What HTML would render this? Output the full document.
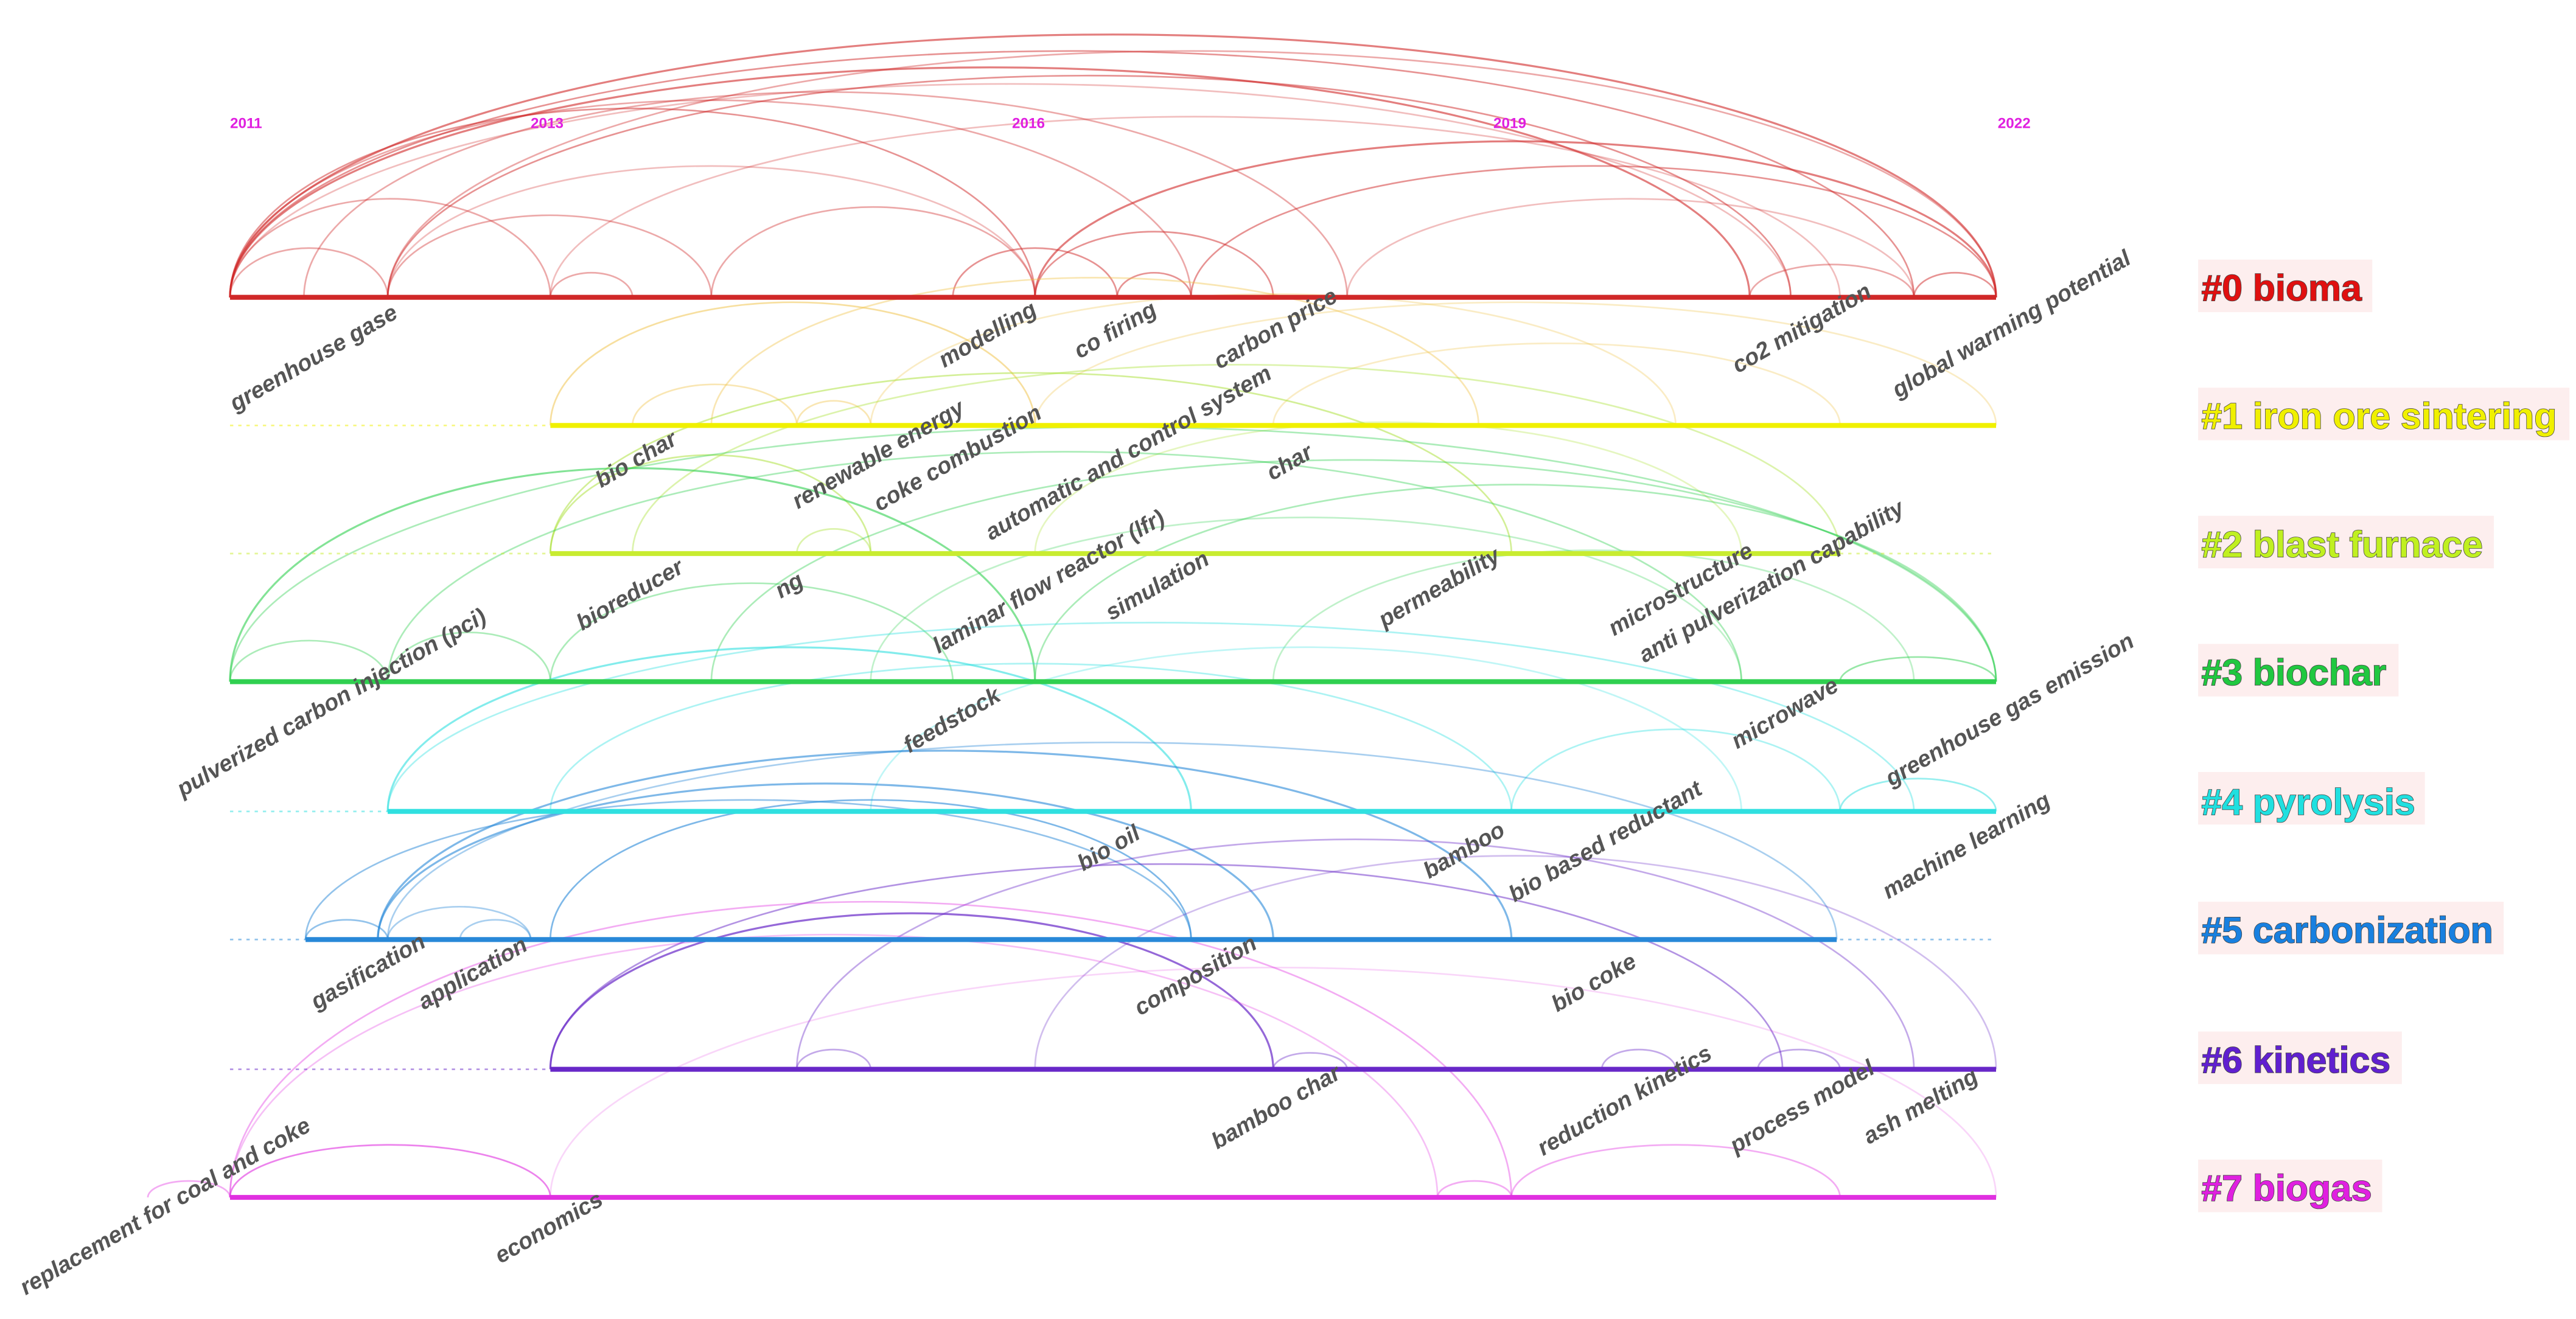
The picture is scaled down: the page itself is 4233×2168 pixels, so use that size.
<!DOCTYPE html>
<html><head><meta charset="utf-8"><style>
html,body{margin:0;padding:0;background:#fff;}
svg{display:block;}
.lab{font-family:"Liberation Sans",sans-serif;font-weight:bold;font-style:italic;font-size:14px;fill:#555;}
.cl{font-family:"Liberation Sans",sans-serif;font-weight:bold;font-size:22.5px;}
.yr{font-family:"Liberation Sans",sans-serif;font-weight:bold;font-size:9px;fill:#e020e0;}
</style></head><body>
<svg id="s" width="4233" height="2168" viewBox="0 0 1568 803" xmlns="http://www.w3.org/2000/svg">
<g id="arcs" fill="none"></g>
<g id="lines"></g>
<g>
<text class="yr" x="140" y="78">2011</text>
<text class="yr" x="323" y="78">2013</text>
<text class="yr" x="616" y="78">2016</text>
<text class="yr" x="909" y="78">2019</text>
<text class="yr" x="1216" y="78">2022</text>
</g>
<g id="labs"></g>
<g>
<rect x="1338" y="158" width="106" height="32" fill="#fdeeee"/>
<rect x="1338" y="236" width="226" height="32" fill="#fdeeee"/>
<rect x="1338" y="314" width="180" height="32" fill="#fdeeee"/>
<rect x="1338" y="392" width="122" height="32" fill="#fdeeee"/>
<rect x="1338" y="470" width="138" height="32" fill="#fdeeee"/>
<rect x="1338" y="549" width="186" height="32" fill="#fdeeee"/>
<rect x="1338" y="628" width="124" height="32" fill="#fdeeee"/>
<rect x="1338" y="706" width="112" height="32" fill="#fdeeee"/>
<g style="paint-order:stroke" stroke="#444" stroke-width="0.6">
<text class="cl" x="1340" y="183" fill="#e01010">#0 bioma</text>
<text class="cl" x="1340" y="261" fill="#f0f000">#1 iron ore sintering</text>
<text class="cl" x="1340" y="339" fill="#c0f020">#2 blast furnace</text>
<text class="cl" x="1340" y="417" fill="#20c840">#3 biochar</text>
<text class="cl" x="1340" y="496" fill="#20e0e0">#4 pyrolysis</text>
<text class="cl" x="1340" y="574" fill="#1880e0">#5 carbonization</text>
<text class="cl" x="1340" y="653" fill="#6020d0">#6 kinetics</text>
<text class="cl" x="1340" y="731" fill="#e020e0">#7 biogas</text>
</g>
</g>
</svg>
<script>
var NS="http://www.w3.org/2000/svg";
var rows=[
 {y:181,c:"#d02828",s:140,e:1215},
 {y:259,c:"#f0f000",s:335,e:1215,a:"#f0c040"},
 {y:337,c:"#c8ec30",s:335,e:1120,a:"#a8e030"},
 {y:415,c:"#30d050",s:140,e:1215},
 {y:494,c:"#30e0e0",s:236,e:1215},
 {y:572,c:"#2888d8",s:186,e:1118},
 {y:651,c:"#6828c8",s:335,e:1215},
 {y:729,c:"#e030e0",s:140,e:1215}];
var A=document.getElementById("arcs"),L=document.getElementById("lines");
function el(n,a,p){var e=document.createElementNS(NS,n);for(var k in a)e.setAttribute(k,a[k]);p.appendChild(e);return e;}
rows.forEach(function(r){
 el("line",{x1:140,x2:1215,y1:r.y,y2:r.y,stroke:r.c,"stroke-width":1,"stroke-dasharray":"2 3",opacity:0.5},L);
 el("line",{x1:r.s,x2:r.e,y1:r.y,y2:r.y,stroke:r.c,"stroke-width":3},L);
});
var arcs=[
[0,140,1215,160,.6,1.2],[0,140,1165,150,.5,1],[0,140,1065,140,.6,1.2],[0,236,1090,135,.5,1],[0,236,1215,150,.4,1],
[0,140,630,115,.5,1],[0,140,725,120,.4,1],[0,185,820,125,.4,1],[0,630,1215,95,.6,1.2],[0,725,1215,80,.5,1],
[0,140,335,60,.4,1],[0,140,236,30,.4,1],[0,236,433,50,.4,1],[0,433,630,55,.4,1],[0,580,680,30,.5,1],[0,630,775,40,.5,1],
[0,680,725,15,.5,1],[0,1065,1165,20,.4,1],[0,1165,1215,15,.5,1],[0,335,385,15,.4,1],[0,335,1120,110,.3,1],[0,140,1090,130,.3,1],
[0,236,630,80,.3,1],[0,820,1165,60,.3,1],
[1,335,630,75,.5,1],[1,433,900,90,.4,1],[1,385,485,25,.4,1],[1,485,530,15,.4,1],[1,530,1020,80,.3,1],[1,630,1215,75,.3,1],[1,775,1120,50,.3,1],
[2,335,920,110,.5,1],[2,385,1120,115,.4,1],[2,335,530,60,.5,1],[2,485,530,15,.4,1],[2,630,1060,80,.3,1],
[3,140,630,130,.6,1.2],[3,140,1215,155,.4,1],[3,236,1060,140,.4,1],[3,433,1215,135,.4,1],[3,140,236,25,.4,1],[3,236,335,30,.4,1],
[3,335,580,60,.4,1],[3,630,1215,120,.4,1],[3,1120,1215,15,.5,1],[3,530,1060,100,.3,1],[3,775,1165,80,.3,1],
[4,236,725,100,.6,1.2],[4,236,1165,115,.4,1],[4,335,920,90,.4,1],[4,920,1120,50,.4,1],[4,1120,1215,20,.5,1],[4,530,1060,100,.3,1],
[5,186,725,85,.5,1],[5,230,775,95,.6,1.2],[5,230,920,115,.6,1.2],[5,335,725,85,.6,1],[5,236,1118,120,.4,1],[5,186,236,12,.5,1],[5,236,323,20,.4,1],[5,280,323,12,.4,1],
[6,335,775,95,.7,1.2],[6,335,1085,125,.5,1],[6,485,1165,140,.4,1],[6,485,530,12,.4,1],[6,975,1020,12,.4,1],[6,1070,1120,12,.4,1],[6,630,1215,130,.3,1],[6,775,820,10,.4,1],
[7,140,335,32,.6,1],[7,140,920,180,.4,1],[7,140,875,160,.3,1],[7,875,920,10,.4,1],[7,920,1120,32,.4,1],[7,90,140,10,.4,1],[7,335,1215,140,.2,1]
];
arcs.forEach(function(a){var r=rows[a[0]],y=r.y,rx=(a[2]-a[1])/2;
 el("path",{d:"M"+a[1]+" "+y+" A"+rx+" "+a[3]+" 0 0 1 "+a[2]+" "+y,stroke:r.a||r.c,"stroke-width":a[5],opacity:a[4]},A);});
var labs=[
["greenhouse gase",243,185],["modelling",632,183],["co firing",705,183],["carbon price",815,175],["co2 mitigation",1140,172],["global warming potential",1298,152],
["bio char",413,262],["renewable energy",588,243],["coke combustion",635,246],["automatic and control system",775,222],["char",800,270],
["bioreducer",417,340],["ng",490,348],["laminar flow reactor (lfr)",710,310],["simulation",737,335],["permeability",914,333],["microstructure",1068,330],["anti pulverization capability",1160,304],
["pulverized carbon injection (pci)",297,370],["feedstock",610,418],["microwave",1120,412],["greenhouse gas emission",1300,385],
["bio oil",695,502],["bamboo",917,500],["bio based reductant",1037,475],["machine learning",1249,482],
["gasification",260,568],["application",322,570],["composition",766,569],["bio coke",997,580],
["bamboo char",817,648],["reduction kinetics",1043,636],["process model",1142,645],["ash melting",1205,650],
["replacement for coal and coke",190,680],["economics",368,725]];
var G=document.getElementById("labs");
labs.forEach(function(l){var t=el("text",{"class":"lab",x:l[1],y:l[2]+8,"text-anchor":"end",transform:"rotate(-30 "+l[1]+" "+(l[2]+8)+")"},G);t.textContent=l[0];});
</script>
</body></html>
